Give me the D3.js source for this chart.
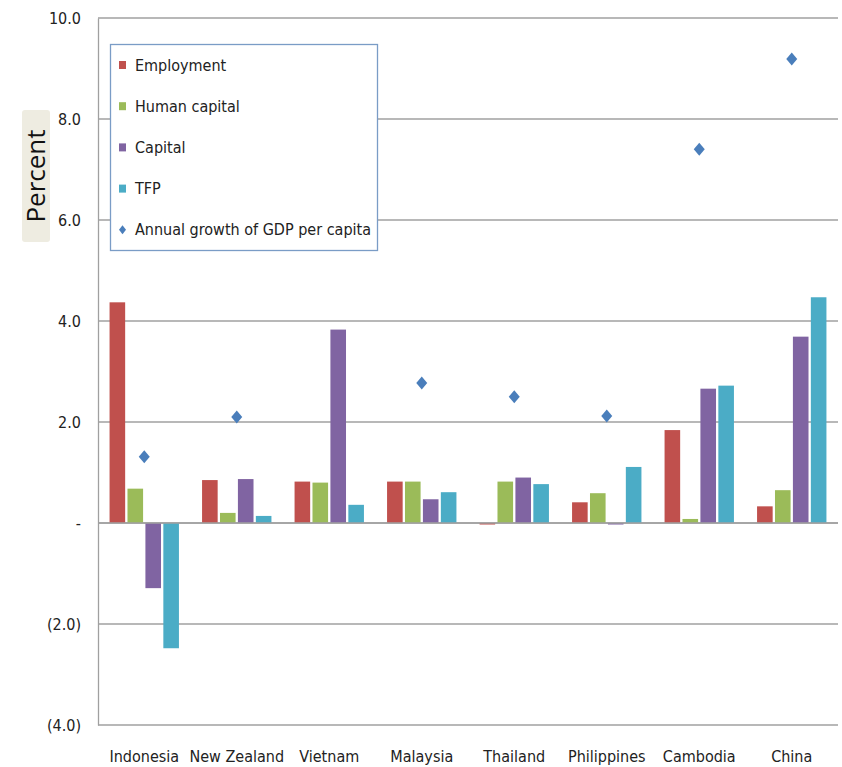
<!DOCTYPE html>
<html>
<head>
<meta charset="utf-8">
<script src="https://cdn.jsdelivr.net/npm/d3@7"></script>
<style>
  html, body { margin: 0; padding: 0; background: #fff; }
  svg { display: block; }
</style>
</head>
<body>
<div id="chart"></div>
<script>
const countries = ["Indonesia", "New Zealand", "Vietnam", "Malaysia", "Thailand", "Philippines", "Cambodia", "China"];
const employment = [4.37, 0.85, 0.82, 0.82, -0.03, 0.41, 1.84, 0.33];
const humanCapital = [0.68, 0.20, 0.80, 0.82, 0.82, 0.59, 0.08, 0.65];
const capital = [-1.29, 0.87, 3.83, 0.47, 0.90, -0.03, 2.66, 3.69];
const tfp = [-2.48, 0.14, 0.36, 0.61, 0.77, 1.11, 2.72, 4.47];
const gdpGrowth = [1.31, 2.10, null, 2.77, 2.50, 2.12, 7.40, 9.19];
const seriesNames = ["Employment", "Human capital", "Capital", "TFP"];
const gdpName = "Annual growth of GDP per capita";
const yTicks = [-4, -2, 0, 2, 4, 6, 8, 10];
const yTickLabels = ["(4.0)", "(2.0)", "-", "2.0", "4.0", "6.0", "8.0", "10.0"];

const seriesColors = {
  "Employment": "#c0504d",
  "Human capital": "#9bbb59",
  "Capital": "#8064a2",
  "TFP": "#4bacc6",
};
const diamondColor = "#4a7ebb";
const gridColor = "#a0a0a0";
const font = "'Liberation Sans Narrow', 'Arial Narrow', 'DejaVu Sans Condensed', sans-serif";

const W = 842, H = 767;
const plot = { left: 98, right: 838, top: 18, bottom: 725 };

const seriesValues = [employment, humanCapital, capital, tfp];
const rows = countries.map((c, i) => ({
  country: c,
  bars: seriesNames.map((s, k) => ({ series: s, value: seriesValues[k][i] })),
  gdp: gdpGrowth[i],
}));

const svg = d3.select("#chart").append("svg").attr("width", W).attr("height", H);

const y = d3.scaleLinear().domain([-4, 10]).range([plot.bottom, plot.top]);
const x0 = d3.scaleBand().domain(countries).range([plot.left, plot.right])
  .paddingInner(0.25).paddingOuter(0.125);
const x1 = d3.scaleBand().domain(seriesNames).range([0, x0.bandwidth()]).paddingInner(0.13);

// gridlines
svg.append("g")
  .selectAll("line")
  .data(yTicks)
  .join("line")
  .attr("x1", plot.left).attr("x2", plot.right)
  .attr("y1", (d) => y(d)).attr("y2", (d) => y(d))
  .attr("stroke", gridColor).attr("stroke-width", 1.3);

// y axis
const yAxis = svg.append("g")
  .attr("transform", `translate(${plot.left},0)`)
  .call(d3.axisLeft(y).tickValues(yTicks).tickSize(0).tickPadding(17)
    .tickFormat((d, i) => yTickLabels[i]));
yAxis.select(".domain").attr("stroke", gridColor).attr("stroke-width", 1.3);
yAxis.selectAll(".tick text")
  .attr("fill", "#222").attr("font-family", font).attr("font-size", "16px");

// bars
const groups = svg.append("g")
  .selectAll("g")
  .data(rows)
  .join("g")
  .attr("transform", (d) => `translate(${x0(d.country)},0)`);

groups.selectAll("rect")
  .data((d) => d.bars)
  .join("rect")
  .attr("x", (d) => x1(d.series))
  .attr("width", x1.bandwidth())
  .attr("y", (d) => y(Math.max(0, d.value)))
  .attr("height", (d) => Math.abs(y(d.value) - y(0)))
  .attr("fill", (d) => seriesColors[d.series]);

// redraw zero line over bars
svg.append("line")
  .attr("x1", plot.left).attr("x2", plot.right)
  .attr("y1", y(0)).attr("y2", y(0))
  .attr("stroke", gridColor).attr("stroke-width", 1.3);

// GDP growth diamonds
function diamond(cx, cy, w, h) {
  return `M${cx},${cy - h / 2}L${cx + w / 2},${cy}L${cx},${cy + h / 2}L${cx - w / 2},${cy}Z`;
}
svg.append("g")
  .selectAll("path")
  .data(rows.filter((d) => d.gdp != null))
  .join("path")
  .attr("d", (d) => diamond(x0(d.country) + x0.bandwidth() / 2, y(d.gdp), 11, 13))
  .attr("fill", diamondColor);

// x labels
svg.append("g")
  .selectAll("text")
  .data(countries)
  .join("text")
  .attr("x", (d) => x0(d) + x0.bandwidth() / 2)
  .attr("y", 762)
  .attr("text-anchor", "middle")
  .attr("font-family", font)
  .attr("font-size", "16px")
  .attr("fill", "#222")
  .text((d) => d);

// y axis title with shaded box
svg.append("rect")
  .attr("x", 22).attr("y", 110).attr("width", 28).attr("height", 132)
  .attr("rx", 3)
  .attr("fill", "#eeece1");
svg.append("text")
  .attr("transform", "translate(45,176) rotate(-90)")
  .attr("text-anchor", "middle")
  .attr("font-family", "'Open Sans', 'DejaVu Sans', sans-serif")
  .attr("font-size", "26px")
  .attr("fill", "#111")
  .text("Percent");

// legend
const legend = svg.append("g");
legend.append("rect")
  .attr("x", 110.5).attr("y", 44.5).attr("width", 267).attr("height", 206)
  .attr("fill", "#fff")
  .attr("stroke", "#7a9cc6").attr("stroke-width", 1.3);

const legendItems = seriesNames.map((s) => ({ name: s, type: "bar" }))
  .concat([{ name: gdpName, type: "diamond" }]);
const li = legend.selectAll("g.item")
  .data(legendItems)
  .join("g")
  .attr("class", "item")
  .attr("transform", (d, i) => `translate(119,${65 + i * 41.2})`);

li.filter((d) => d.type === "bar").append("rect")
  .attr("x", 0).attr("y", -4).attr("width", 7).attr("height", 8)
  .attr("fill", (d) => seriesColors[d.name]);
li.filter((d) => d.type === "diamond").append("path")
  .attr("d", diamond(3.5, 0, 7, 9))
  .attr("fill", diamondColor);
li.append("text")
  .attr("x", 16).attr("y", 0).attr("dy", "0.35em")
  .attr("font-family", font)
  .attr("font-size", "16px")
  .attr("fill", "#222")
  .text((d) => d.name);
</script>
</body>
</html>
